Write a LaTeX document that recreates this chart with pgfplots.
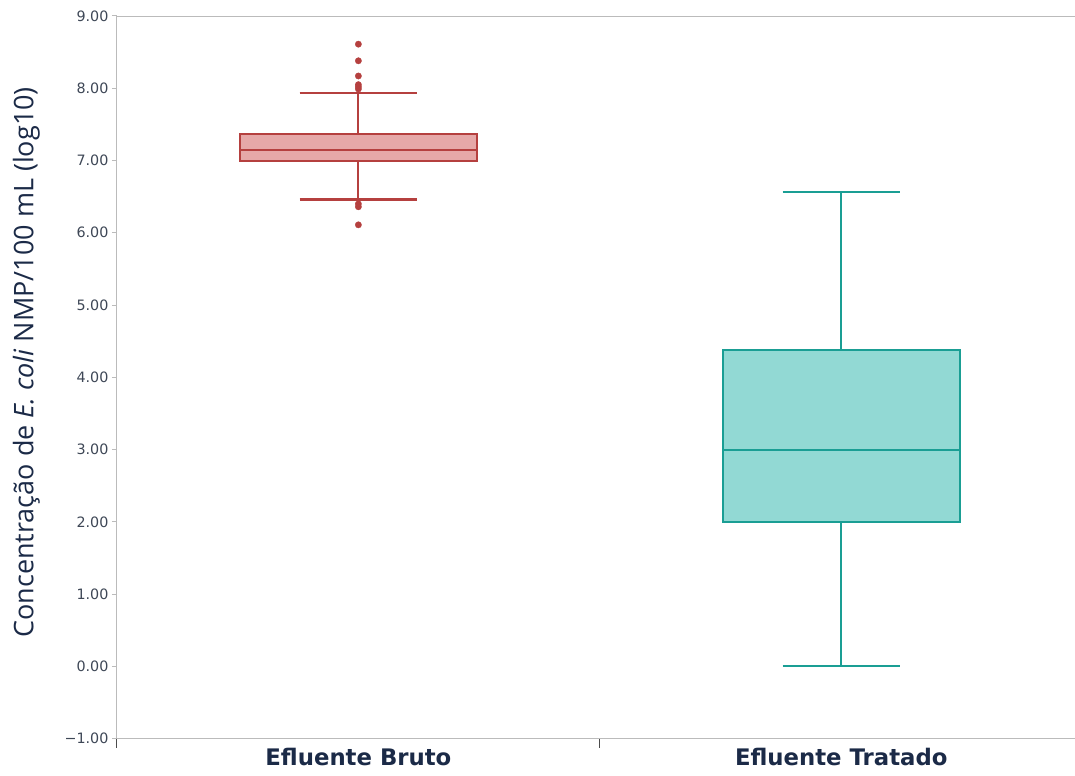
\documentclass[border=0pt]{standalone}
\usepackage{fontspec}
\setmainfont{Open Sans}
\newfontfamily\tickfont{DejaVu Sans}
\newfontfamily\catfont{DejaVu Sans}
\usepackage{pgfplots}
\usepgfplotslibrary{statistics}
\pgfplotsset{compat=1.18}
\definecolor{rline}{HTML}{B5403F}
\definecolor{rfill}{HTML}{E6A8A8}
\definecolor{tline}{HTML}{1A9E94}
\definecolor{tfill}{HTML}{92D9D4}
\definecolor{navy}{HTML}{1B2A47}
\definecolor{axgray}{HTML}{BBBBBB}
\definecolor{ticktext}{HTML}{3E4756}
\begin{document}
\begin{tikzpicture}[line width=2.1pt]
\begin{axis}[
  scale only axis, width=958pt, height=723pt,
  xmin=-0.5, xmax=1.483, ymin=-1, ymax=9,
  axis lines*=left,
  axis line style={axgray, line width=1pt},
  clip=false,
  tick align=outside,
  major tick length=5pt,
  minor tick length=9pt,
  ytick={-1,0,1,2,3,4,5,6,7,8,9},
  yticklabels={−1.00,0.00,1.00,2.00,3.00,4.00,5.00,6.00,7.00,8.00,9.00},
  yticklabel style={font=\tickfont\fontsize{14.3}{15}\selectfont, text=ticktext},
  y tick style={axgray, line width=1pt},
  xtick={0,1},
  xticklabels={Efluente Bruto, Efluente Tratado},
  xticklabel style={font=\catfont\fontsize{22.8}{26}\selectfont\bfseries, text=navy, yshift=-1pt},
  major x tick style={draw=none},
  minor xtick={-0.5,0.5},
  minor x tick style={draw=black!70, line width=1pt},
  ylabel={Concentração de \textit{E. coli} NMP/100 mL (log10)},
  ylabel style={font=\fontsize{27}{30}\selectfont, text=navy, yshift=18pt, xshift=15pt},
  boxplot/draw direction=y,
  boxplot/box extend=0.49,
  boxplot/whisker extend=0.243,
  boxplot/every whisker/.style={/tikz/line width=2.1pt},
  boxplot/every median/.style={/tikz/line width=2.1pt},
  boxplot/every box/.style={/tikz/line width=2.1pt, draw, fill},
]
\addplot[boxplot prepared={draw position=0, lower whisker=6.46, lower quartile=6.99,
  median=7.14, upper quartile=7.37, upper whisker=7.94},
  draw=rline, fill=rfill, line width=2.1pt,
  mark=*, mark size=3.2pt, mark options={draw=rline, fill=rline, line width=0.3pt}]
  table[row sep=\\, y index=0] {8.61\\ 8.38\\ 8.17\\ 8.05\\ 8.02\\ 7.99\\ 6.40\\ 6.36\\ 6.11\\};
\addplot[boxplot prepared={draw position=1, lower whisker=0.00, lower quartile=2.00,
  median=3.00, upper quartile=4.38, upper whisker=6.56},
  draw=tline, fill=tfill, line width=2.1pt]
  coordinates {};
\draw[axgray, line width=0.8pt] (rel axis cs:0,1) -- (rel axis cs:1,1);
\end{axis}
\path ([xshift=-117pt,yshift=-37pt]current axis.south west);
\path ([yshift=16pt]current axis.north east);
\end{tikzpicture}
\end{document}
